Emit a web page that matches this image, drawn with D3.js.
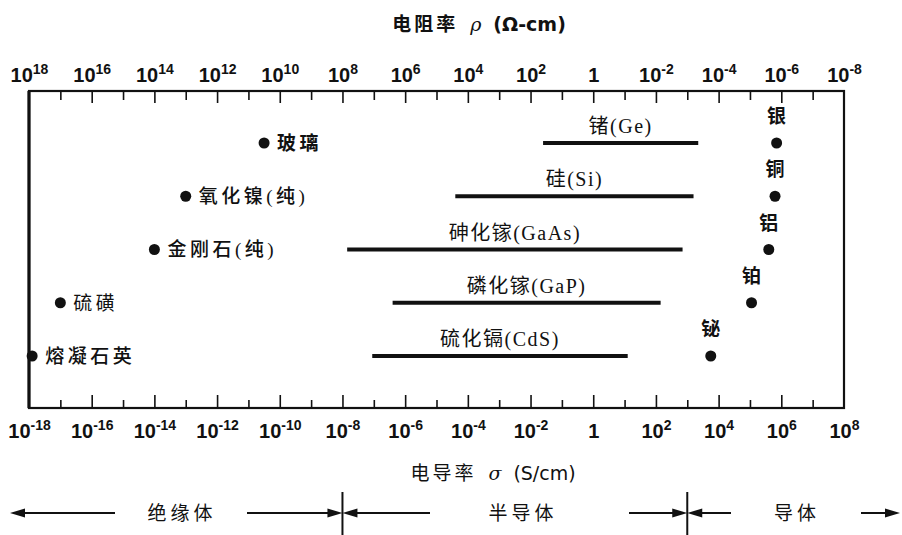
<!DOCTYPE html>
<html>
<head>
<meta charset="utf-8">
<script src="https://cdn.jsdelivr.net/npm/d3@7"></script>
<style>
body { margin: 0; background: #fff; }
</style>
</head>
<body>
<div id="chart"></div>
<script>
// values are log10 of conductivity sigma (S/cm)
var insulatorNames = ["玻璃", "氧化镍(纯)", "金刚石(纯)", "硫磺", "熔凝石英"];
var insulatorLog = [-10.5, -13, -14, -17, -17.9];

var semiNames = ["锗(Ge)", "硅(Si)", "砷化镓(GaAs)", "磷化镓(GaP)", "硫化镉(CdS)"];
var semiLogMin = [-1.6, -4.4, -7.85, -6.4, -7.05];
var semiLogMax = [3.35, 3.2, 2.85, 2.15, 1.1];

var metalNames = ["银", "铜", "铝", "铂", "铋"];
var metalLog = [5.85, 5.8, 5.6, 5.05, 3.75];

// axis decades, labels every second one
var decades = d3.range(-18, 9);

var regionNames = ["绝缘体", "半导体", "导体"];
var regionBounds = [-8, 3];

var topTitle = "电阻率";
var bottomTitle = "电导率";

// Set Dimension
var width = 902, height = 535;
var boxLeft = 29, boxRight = 844, boxTop = 91, boxBottom = 408;

var svg = d3.select("#chart")
    .append("svg")
    .attr("width", width)
    .attr("height", height)
    .style("font-family", "'DejaVu Sans', sans-serif");

// scales: sigma below, rho = 1/sigma on top
var x = d3.scaleLog().domain([1e-18, 1e8]).range([boxLeft, boxRight]);
var xRho = d3.scaleLog().domain([1e18, 1e-8]).range([boxLeft, boxRight]);
var y = d3.scalePoint().domain(d3.range(5)).range([143, 356]);

function pow10(e) { return Math.pow(10, e); }

// Box
svg.append("rect")
    .attr("x", boxLeft)
    .attr("y", boxTop)
    .attr("width", boxRight - boxLeft)
    .attr("height", boxBottom - boxTop)
    .attr("fill", "none")
    .attr("stroke", "#111")
    .attr("stroke-width", 2.2);
svg.append("line")
    .attr("x1", boxLeft).attr("x2", boxLeft)
    .attr("y1", boxTop).attr("y2", boxBottom)
    .attr("stroke", "#111")
    .attr("stroke-width", 3.2);

// label helper: 10 with superscript, or just 1
function expLabel(g, e, yy) {
    var t = g.append("text")
        .attr("y", yy)
        .attr("text-anchor", "middle")
        .attr("fill", "#111")
        .style("font-size", "20px")
        .style("font-weight", "bold");
    if (e === 0) {
        t.text("1");
    } else {
        t.append("tspan").text("10");
        t.append("tspan")
            .attr("dy", -8)
            .style("font-size", "14px")
            .text(e < 0 ? "-" + Math.abs(e) : String(e));
    }
}

// Bottom axis (sigma)
var xAxis = d3.axisBottom(x)
    .tickValues(decades.map(pow10))
    .tickSizeOuter(0)
    .tickFormat("");
var gBottom = svg.append("g")
    .attr("transform", "translate(0," + boxBottom + ")")
    .call(xAxis);
gBottom.select(".domain").remove();
gBottom.selectAll(".tick").each(function(d) {
    var e = Math.round(Math.log10(d));
    var g = d3.select(this);
    var edge = (e === -18 || e === 8);
    g.select("line")
        .attr("y2", edge ? 0 : (e % 2 === 0 ? -13 : -8))
        .attr("stroke", "#111")
        .attr("stroke-width", 1.6);
    if (e % 2 === 0) expLabel(g, e, 30);
});

// Top axis (rho)
var rhoAxis = d3.axisTop(xRho)
    .tickValues(decades.map(function(e) { return pow10(-e); }))
    .tickSizeOuter(0)
    .tickFormat("");
var gTop = svg.append("g")
    .attr("transform", "translate(0," + boxTop + ")")
    .call(rhoAxis);
gTop.select(".domain").remove();
gTop.selectAll(".tick").each(function(d) {
    var e = Math.round(Math.log10(d));
    var g = d3.select(this);
    var edge = (e === 18 || e === -8);
    g.select("line")
        .attr("y2", edge ? 0 : (e % 2 === 0 ? 12 : 9))
        .attr("stroke", "#111")
        .attr("stroke-width", 1.6);
    if (e % 2 === 0) expLabel(g, e, -9);
});

// Titles
var tt = svg.append("text")
    .attr("x", 479)
    .attr("y", 31)
    .attr("text-anchor", "middle")
    .attr("fill", "#111")
    .style("font-size", "19px");
tt.append("tspan").style("font-family", "'Noto Sans CJK SC'").style("font-weight", "bold").style("letter-spacing", "3px").text(topTitle);
tt.append("tspan").attr("dx", 12).style("font-style", "italic").style("font-family", "'DejaVu Serif'").text("ρ");
tt.append("tspan").attr("dx", 12).style("font-weight", "bold").text("(Ω-cm)");

var bt = svg.append("text")
    .attr("x", 493)
    .attr("y", 480)
    .attr("text-anchor", "middle")
    .attr("fill", "#111")
    .style("font-size", "19px");
bt.append("tspan").style("font-family", "'Noto Sans CJK SC'").style("letter-spacing", "3px").text(bottomTitle);
bt.append("tspan").attr("dx", 12).style("font-style", "italic").style("font-family", "'DejaVu Serif'").text("σ");
bt.append("tspan").attr("dx", 12).text("(S/cm)");

// Insulators: dots with labels to the right
var insulators = insulatorNames.map(function(n, i) { return { name: n, v: pow10(insulatorLog[i]), row: i }; });
svg.selectAll(".ins-dot").data(insulators).enter()
    .append("circle")
    .attr("class", "ins-dot")
    .attr("cx", function(d) { return x(d.v); })
    .attr("cy", function(d) { return y(d.row); })
    .attr("r", 5.5)
    .attr("fill", "#111");
svg.selectAll(".ins-label").data(insulators).enter()
    .append("text")
    .attr("class", "ins-label")
    .attr("x", function(d) { return x(d.v) + 13; })
    .attr("y", function(d) { return y(d.row); })
    .attr("dy", "0.36em")
    .attr("fill", "#111")
    .style("font-family", "'Liberation Serif', 'Noto Sans CJK SC'")
    .style("font-size", "19px")
    .style("letter-spacing", "3.5px")
    .style("font-weight", function(d) { return d.row === 0 ? "bold" : (d.row === 3 ? "normal" : "500"); })
    .text(function(d) { return d.name; });

// Semiconductors: ranges as thick bars
var semis = semiNames.map(function(n, i) {
    return { name: n, lo: pow10(semiLogMin[i]), hi: pow10(semiLogMax[i]), row: i };
});
svg.selectAll(".semi-bar").data(semis).enter()
    .append("line")
    .attr("class", "semi-bar")
    .attr("x1", function(d) { return x(d.lo); })
    .attr("x2", function(d) { return x(d.hi); })
    .attr("y1", function(d) { return y(d.row); })
    .attr("y2", function(d) { return y(d.row); })
    .attr("stroke", "#111")
    .attr("stroke-width", 4);
svg.selectAll(".semi-label").data(semis).enter()
    .append("text")
    .attr("class", "semi-label")
    .attr("x", function(d) { return (x(d.lo) + x(d.hi)) / 2; })
    .attr("y", function(d) { return y(d.row) - 10; })
    .attr("text-anchor", "middle")
    .attr("fill", "#111")
    .style("font-family", "'Liberation Serif', 'Noto Sans CJK SC'")
    .style("font-size", "20px")
    .style("letter-spacing", "1.5px")
    .text(function(d) { return d.name; });

// Metals: dots with labels above
var metals = metalNames.map(function(n, i) { return { name: n, v: pow10(metalLog[i]), row: i }; });
svg.selectAll(".met-dot").data(metals).enter()
    .append("circle")
    .attr("class", "met-dot")
    .attr("cx", function(d) { return x(d.v); })
    .attr("cy", function(d) { return y(d.row); })
    .attr("r", 5.5)
    .attr("fill", "#111");
svg.selectAll(".met-label").data(metals).enter()
    .append("text")
    .attr("class", "met-label")
    .attr("x", function(d) { return x(d.v); })
    .attr("y", function(d) { return y(d.row) - 20; })
    .attr("text-anchor", "middle")
    .attr("fill", "#111")
    .style("font-family", "'Noto Sans CJK SC'")
    .style("font-size", "19px")
    .style("font-weight", "bold")
    .text(function(d) { return d.name; });

// Region arrows under the axis
var arrowY = 513;
var bL = x(pow10(regionBounds[0])), bR = x(pow10(regionBounds[1]));

function arrow(x1, x2) {
    var dir = x2 > x1 ? 1 : -1;
    svg.append("line")
        .attr("x1", x1).attr("x2", x2 - dir * 10)
        .attr("y1", arrowY).attr("y2", arrowY)
        .attr("stroke", "#111")
        .attr("stroke-width", 2);
    svg.append("path")
        .attr("d", d3.line()([[x2, arrowY], [x2 - dir * 15, arrowY - 4.5], [x2 - dir * 15, arrowY + 4.5]]) + "Z")
        .attr("fill", "#111");
}
arrow(115, 10);
arrow(247, bL);
arrow(430, bL);
arrow(629, bR);
arrow(731, bR);
arrow(861, 900);

[bL, bR].forEach(function(b) {
    svg.append("line")
        .attr("x1", b).attr("x2", b)
        .attr("y1", 492).attr("y2", 535)
        .attr("stroke", "#111")
        .attr("stroke-width", 2);
});

svg.selectAll(".region").data(regionNames).enter()
    .append("text")
    .attr("class", "region")
    .attr("x", function(d, i) { return [182, 523, 797][i]; })
    .attr("y", arrowY)
    .attr("dy", "0.36em")
    .attr("text-anchor", "middle")
    .attr("fill", "#111")
    .style("font-family", "'Noto Sans CJK SC'")
    .style("font-size", "19px")
    .style("letter-spacing", "4px")
    .text(function(d) { return d; });
</script>
</body>
</html>
